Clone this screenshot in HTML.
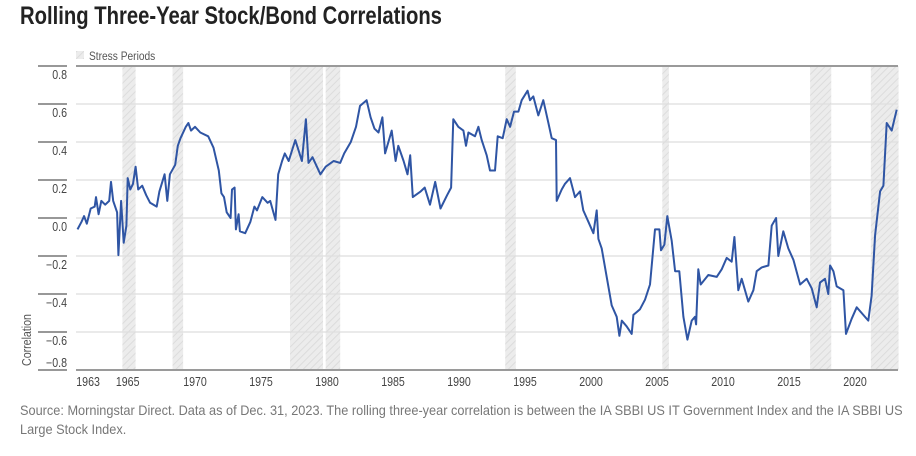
<!DOCTYPE html>
<html><head><meta charset="utf-8"><style>
body{margin:0;background:#fff;width:916px;height:456px;overflow:hidden;font-family:"Liberation Sans",sans-serif;}
#title{position:absolute;left:20px;top:2px;font-size:25px;font-weight:bold;color:#222;white-space:nowrap;transform:scaleX(0.81);transform-origin:0 0}
#source{position:absolute;left:20px;top:401px;font-size:14px;color:#777;line-height:19px;white-space:nowrap;transform:scaleX(0.91);transform-origin:0 0}
svg{position:absolute;left:0;top:0}
</style></head><body>
<div id="title">Rolling Three-Year Stock/Bond Correlations</div>
<svg id="chart" width="916" height="456">
<defs><pattern id="hatch" patternUnits="userSpaceOnUse" width="5" height="5" patternTransform="rotate(45)"><rect width="5" height="5" fill="#ececec"/><line x1="0" y1="0" x2="0" y2="5" stroke="#dcdcdc" stroke-width="2"/></pattern></defs>
</svg>
<div id="source">Source: Morningstar Direct. Data as of Dec. 31, 2023. The rolling three-year correlation is between the IA SBBI US IT Government Index and the IA SBBI US<br>Large Stock Index.</div>
<script>
const yTicks=[0.8,0.6,0.4,0.2,0.0,-0.2,-0.4,-0.6,-0.8];
const yTickLabels=["0.8","0.6","0.4","0.2","0.0","\u22120.2","\u22120.4","\u22120.6","\u22120.8"];
const xTicks=[1963,1965,1970,1975,1980,1985,1990,1995,2000,2005,2010,2015,2020];
const xTickPos=[1961.9,1964.9,1970,1975,1980,1985,1990,1995,2000,2005,2010,2015,2020];
const stressStart=[1964.5,1968.3,1977.2,1979.9,1993.5,2005.4,2016.6,2021.2];
const stressEnd=[1965.5,1969.1,1979.7,1981.0,1994.3,2005.9,2018.2,2023.3];
const years=[1961.1,1961.4,1961.6,1961.8,1962.1,1962.4,1962.5,1962.7,1962.9,1963.2,1963.5,1963.64,1963.8,1964.1,1964.2,1964.4,1964.6,1964.8,1964.9,1965.1,1965.3,1965.5,1965.7,1966.0,1966.3,1966.6,1967.1,1967.3,1967.7,1967.9,1968.1,1968.5,1968.7,1968.9,1969.3,1969.5,1969.7,1970.0,1970.4,1971.0,1971.4,1971.8,1972.0,1972.2,1972.4,1972.7,1972.8,1973.0,1973.1,1973.3,1973.4,1973.8,1974.2,1974.5,1974.7,1975.1,1975.5,1975.7,1976.1,1976.3,1976.6,1976.8,1977.1,1977.6,1978.1,1978.4,1978.6,1978.9,1979.5,1979.9,1980.5,1981.0,1981.3,1981.8,1982.2,1982.5,1983.0,1983.3,1983.6,1983.9,1984.2,1984.4,1984.9,1985.2,1985.4,1985.8,1986.1,1986.3,1986.5,1987.1,1987.4,1987.8,1988.2,1988.6,1989.1,1989.4,1989.57,1989.95,1990.33,1990.53,1990.71,1991.21,1991.47,1991.72,1992.1,1992.35,1992.73,1992.93,1993.31,1993.61,1993.87,1994.17,1994.5,1994.75,1995.2,1995.38,1995.63,1996.01,1996.39,1996.77,1997.02,1997.35,1997.4,1997.78,1998.03,1998.41,1998.79,1999.17,1999.42,1999.8,2000.18,2000.43,2000.56,2000.81,2001.19,2001.57,2001.95,2002.15,2002.33,2002.7,2003.08,2003.21,2003.71,2004.09,2004.47,2004.85,2005.18,2005.3,2005.56,2005.78,2006.11,2006.37,2006.69,2007.0,2007.3,2007.63,2007.88,2007.96,2008.13,2008.31,2008.89,2009.52,2009.9,2010.28,2010.66,2010.86,2011.16,2011.42,2011.92,2012.3,2012.55,2012.93,2013.44,2013.69,2014.02,2014.19,2014.57,2014.95,2015.33,2015.84,2016.34,2016.72,2017.1,2017.35,2017.73,2017.98,2018.11,2018.36,2018.61,2019.12,2019.32,2019.75,2020.13,2020.63,2021.01,2021.26,2021.52,2021.9,2022.15,2022.4,2022.78,2023.16];
const values=[-0.06,-0.02,0.01,-0.03,0.05,0.06,0.11,0.02,0.09,0.07,0.09,0.19,0.09,0.03,-0.195,0.09,-0.13,-0.04,0.21,0.15,0.18,0.27,0.15,0.17,0.12,0.08,0.06,0.14,0.23,0.09,0.23,0.28,0.38,0.42,0.48,0.50,0.46,0.48,0.45,0.43,0.37,0.25,0.13,0.11,0.03,0.00,0.15,0.16,-0.06,0.02,-0.07,-0.08,-0.02,0.06,0.04,0.11,0.08,0.09,-0.01,0.23,0.30,0.34,0.30,0.41,0.30,0.52,0.29,0.32,0.23,0.27,0.30,0.29,0.34,0.40,0.48,0.59,0.62,0.53,0.47,0.45,0.53,0.34,0.46,0.30,0.38,0.30,0.23,0.33,0.11,0.14,0.16,0.07,0.19,0.05,0.12,0.16,0.52,0.48,0.46,0.38,0.45,0.43,0.48,0.41,0.33,0.25,0.25,0.43,0.42,0.52,0.48,0.56,0.56,0.62,0.67,0.62,0.64,0.54,0.62,0.50,0.42,0.41,0.09,0.15,0.18,0.21,0.11,0.14,0.04,-0.02,-0.08,0.04,-0.11,-0.16,-0.31,-0.46,-0.52,-0.62,-0.54,-0.57,-0.61,-0.51,-0.48,-0.43,-0.35,-0.06,-0.06,-0.17,-0.14,0.01,-0.12,-0.28,-0.28,-0.52,-0.64,-0.54,-0.52,-0.56,-0.27,-0.35,-0.30,-0.31,-0.27,-0.21,-0.23,-0.10,-0.38,-0.32,-0.44,-0.38,-0.28,-0.26,-0.25,-0.04,0.00,-0.20,-0.07,-0.16,-0.22,-0.35,-0.32,-0.37,-0.47,-0.34,-0.32,-0.40,-0.25,-0.28,-0.36,-0.38,-0.61,-0.53,-0.47,-0.51,-0.54,-0.41,-0.09,0.14,0.17,0.50,0.46,0.57];

const NS="http://www.w3.org/2000/svg";
const svg=document.getElementById('chart');
const L=76,R=898;
function xs(t){return 195+(t-1970)*13.2;}
function ys(v){return 218-v*190;}
function mk(tag,attrs,parent){const e=document.createElementNS(NS,tag);for(const k in attrs)e.setAttribute(k,attrs[k]);(parent||svg).appendChild(e);return e;}
function cond(t,x,y,anchor){
  t.setAttribute('transform','translate('+x+','+y+') scale(0.85,1)');
  t.setAttribute('x',0);t.setAttribute('y',0);
  if(anchor)t.setAttribute('text-anchor',anchor);
}

for(let i=0;i<stressStart.length;i++){
  const r=mk('rect',{x:xs(stressStart[i]),y:ys(0.8),width:xs(stressEnd[i])-xs(stressStart[i]),height:ys(-0.8)-ys(0.8),fill:'url(#hatch)'});
  
  
}
for(let i=0;i<yTicks.length;i++){
  const y=ys(yTicks[i]);
  const edge=(i===0||i===yTicks.length-1);
  const g=mk('line',{x1:L,x2:R,y1:y,y2:y,stroke:edge?'#9a9a9a':'#dedede','stroke-width':edge?2:1.3});
  
  
  const tk=mk('line',{x1:38,x2:67,y1:y,y2:y,stroke:'#777','stroke-width':1.5});
  
  
  const t=mk('text',{'font-size':12.5,fill:'#444'});
  cond(t,67,y+(i===yTicks.length-1?-3:13),'end');
  t.textContent=yTickLabels[i];
  
  
}
for(let i=0;i<xTicks.length;i++){
  const t=mk('text',{'font-size':12.5,fill:'#444'});
  cond(t,xs(xTickPos[i]),386,'middle');
  t.textContent=xTicks[i];
  
  
}
const yt=mk('text',{transform:'translate(31,340) rotate(-90) scale(0.85,1)','text-anchor':'middle','font-size':12.5,fill:'#555'});
yt.textContent='Correlation';


const sw=mk('rect',{x:76,y:51,width:8,height:8,fill:'url(#hatch)'});


const lt=mk('text',{'font-size':12,fill:'#555'});
cond(lt,89,60);
lt.textContent='Stress Periods';


let d='';
for(let i=0;i<years.length;i++){d+=(i?'L':'M')+xs(years[i]).toFixed(1)+','+ys(values[i]).toFixed(1);}
const p=mk('path',{d:d,fill:'none',stroke:'#2f55a4','stroke-width':2,'stroke-linejoin':'round'});


</script>
</body></html>
